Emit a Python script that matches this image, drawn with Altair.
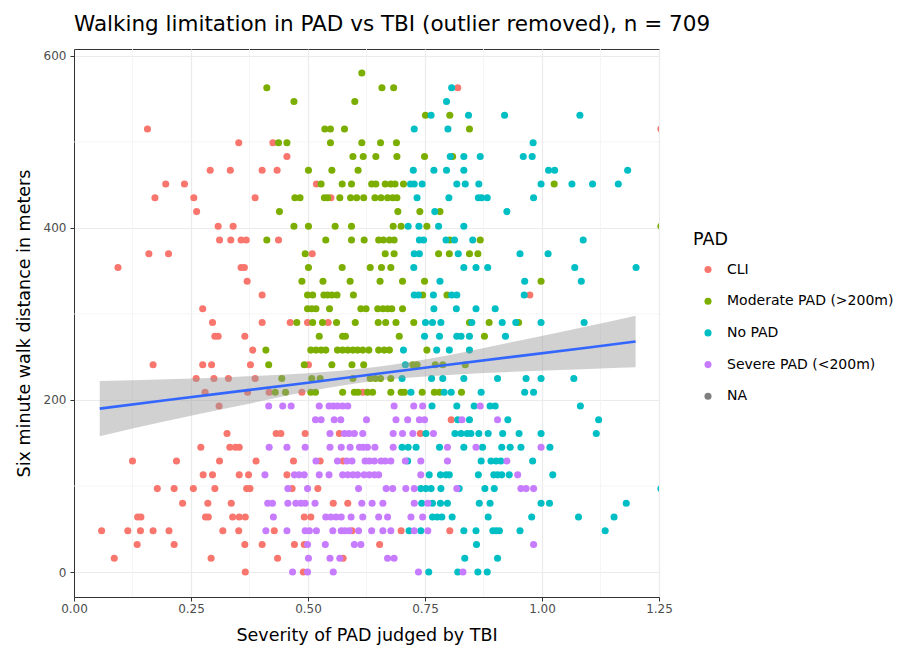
import altair as alt
import pandas as pd

CATS = ["CLI", "Moderate PAD (>200m)", "No PAD", "Severe PAD (<200m)", "NA"]
COLORS = ["#F8766D", "#7CAE00", "#00BFC4", "#C77CFF", "#7F7F7F"]

# walk distance (m) -> TBI values
CLI = {
    563: [0.820],
    515: [0.157, 1.254],
    499: [0.352, 0.425],
    483: [0.455],
    467: [0.291, 0.334, 0.402, 0.434],
    451: [0.196, 0.236, 0.518],
    435: [0.173, 0.256, 0.387, 0.549],
    419: [0.262],
    402: [0.308, 0.340],
    386: [0.311, 0.335, 0.357, 0.368, 0.437],
    370: [0.160, 0.202, 0.509],
    354: [0.094, 0.357, 0.364],
    338: [0.370],
    322: [0.402, 0.974],
    306: [0.275],
    290: [0.296, 0.402, 0.462, 0.499, 0.543],
    274: [0.301, 0.308, 0.365],
    258: [0.382],
    241: [0.169, 0.275, 0.294, 0.377, 0.501],
    225: [0.261, 0.299, 0.330, 0.387],
    209: [0.280, 0.371, 0.417, 0.487, 0.617],
    193: [0.310],
    177: [0.806],
    161: [0.327, 0.432, 0.442, 0.494, 0.567, 0.740],
    145: [0.271, 0.333, 0.345, 0.353],
    129: [0.125, 0.219, 0.311, 0.389, 0.469, 0.526, 0.575],
    113: [0.276, 0.296, 0.353, 0.373, 0.455],
    97: [0.178, 0.214, 0.255, 0.301, 0.369, 0.376, 0.466, 0.521],
    80: [0.232, 0.286, 0.336, 0.554, 0.585],
    64: [0.136, 0.143, 0.281, 0.287, 0.339, 0.353, 0.366, 0.492, 0.506],
    48: [0.059, 0.115, 0.142, 0.169, 0.203, 0.318, 0.352, 0.428, 0.594, 0.699, 0.803],
    32: [0.135, 0.214, 0.365, 0.402, 0.471, 0.492, 0.653],
    16: [0.086, 0.293, 0.435, 0.575],
    0: [0.366, 0.490],
}

MODERATE = {
    580: [0.615],
    563: [0.412, 0.658, 0.683],
    547: [0.470, 0.600],
    531: [0.751, 0.803],
    515: [0.536, 0.548, 0.578, 0.845],
    499: [0.437, 0.455, 0.548, 0.615, 0.655, 0.689],
    483: [0.596, 0.618, 0.645, 0.690, 0.749, 0.809],
    467: [0.501, 0.551, 0.607],
    451: [0.528, 0.573, 0.593, 0.636, 0.645, 0.665, 0.677, 0.686, 0.704, 1.026],
    435: [0.472, 0.483, 0.535, 0.542, 0.568, 0.591, 0.604, 0.619, 0.643, 0.656, 0.670, 0.681, 0.690],
    419: [0.439, 0.692, 0.739, 0.782],
    402: [0.470, 0.501, 0.558, 0.593, 0.682, 0.699, 0.754, 1.254],
    386: [0.412, 0.538, 0.593, 0.620, 0.651, 0.661, 0.674, 0.684, 0.803, 0.868],
    370: [0.494, 0.665, 0.684, 0.779, 0.802, 0.845, 0.863],
    354: [0.501, 0.573, 0.633, 0.657, 0.677],
    338: [0.487, 0.532, 0.590, 0.654, 0.702, 0.749, 0.998],
    322: [0.499, 0.510, 0.534, 0.542, 0.551, 0.562, 0.597, 0.745, 0.797],
    306: [0.499, 0.508, 0.517, 0.546, 0.613, 0.624, 0.649, 0.660, 0.670, 0.679, 0.702],
    290: [0.476, 0.510, 0.531, 0.561, 0.601, 0.650, 0.666, 0.688, 0.726, 0.845, 0.887, 0.950],
    274: [0.524, 0.574, 0.580, 0.695, 0.877],
    258: [0.410, 0.506, 0.517, 0.528, 0.538, 0.563, 0.574, 0.585, 0.596, 0.606, 0.617, 0.630,
          0.651, 0.663, 0.674, 0.754],
    241: [0.416, 0.492, 0.551, 0.594, 0.619, 0.724, 0.733, 0.772, 0.788, 0.836],
    225: [0.444, 0.508, 0.526, 0.596, 0.633, 0.644, 0.655, 0.677],
    209: [0.430, 0.452, 0.506, 0.516, 0.574, 0.599, 0.607, 0.627, 0.638, 0.677, 0.699, 0.706,
          0.744, 0.770, 0.781, 0.828],
}

NO_PAD = {
    563: [0.807],
    547: [0.796],
    531: [0.763, 0.843, 0.920, 1.081],
    515: [0.727, 0.799],
    499: [0.981],
    483: [0.804, 0.833, 0.868, 0.960, 0.979],
    467: [0.725, 0.769, 0.796, 0.833, 1.014, 1.027, 1.183],
    451: [0.719, 0.727, 0.744, 0.818, 0.836, 0.865, 0.998, 1.064, 1.108, 1.163],
    435: [0.733, 0.801, 0.864, 0.871, 0.883, 0.982],
    419: [0.771, 0.925],
    402: [0.714, 0.737, 0.779, 0.833],
    386: [0.738, 0.747, 0.795, 0.813, 0.852, 1.088],
    370: [0.727, 0.738, 0.821, 0.953, 1.013],
    354: [0.726, 0.833, 0.859, 0.884, 1.070, 1.201],
    338: [0.782, 0.963, 1.084],
    322: [0.727, 0.736, 0.768, 0.807, 0.818, 0.962],
    306: [0.769, 0.817, 0.859, 0.900],
    290: [0.751, 0.766, 0.784, 0.850, 0.915, 0.944, 0.998, 1.090],
    274: [0.749, 0.781, 0.818, 0.827, 0.845, 0.922],
    258: [0.704, 0.775, 0.802, 0.845],
    241: [0.708],
    225: [0.701, 0.764, 0.788, 0.833, 0.905, 0.966, 0.998, 1.068],
    209: [0.720, 0.791, 0.806, 0.870, 0.963, 0.982],
    193: [0.765, 0.818, 0.855, 0.889, 0.900, 1.082],
    177: [0.820, 0.845, 0.927, 1.121],
    161: [0.752, 0.814, 0.827, 0.840, 0.848, 0.865, 0.885, 0.916, 0.951, 0.998, 1.116],
    145: [0.701, 0.714, 0.731, 0.781, 0.833, 0.873, 0.914, 0.932, 0.955, 1.017],
    129: [0.713, 0.870, 0.891, 0.902, 0.912, 0.980],
    113: [0.759, 0.783, 0.795, 0.802, 0.864, 0.897, 0.905, 0.914, 0.930, 1.023],
    97: [0.741, 0.752, 0.763, 0.784, 0.823, 0.878, 0.898, 1.254],
    80: [0.743, 0.766, 0.783, 0.798, 0.866, 0.889, 0.998, 1.016, 1.180],
    64: [0.766, 0.776, 0.786, 0.808, 0.885, 0.978, 1.078, 1.154],
    48: [0.716, 0.741, 0.833, 0.859, 0.895, 0.902, 0.909, 0.953, 1.135],
    32: [0.860],
    16: [0.835, 0.905],
    0: [0.758, 0.820, 0.863, 0.883],
}

SEVERE = {
    193: [0.416, 0.446, 0.464, 0.524, 0.545, 0.554, 0.563, 0.574, 0.585, 0.684, 0.726, 0.745, 0.868],
    177: [0.516, 0.528, 0.556, 0.570, 0.625, 0.688, 0.713, 0.738, 0.749, 0.829, 0.905],
    161: [0.547, 0.578, 0.588, 0.599, 0.617, 0.682, 0.702, 0.724, 0.768],
    145: [0.417, 0.455, 0.494, 0.547, 0.571, 0.590, 0.610, 0.618, 0.627, 0.643, 0.682, 0.798,
          0.859, 0.998],
    129: [0.517, 0.563, 0.583, 0.594, 0.622, 0.631, 0.642, 0.656, 0.665, 0.677, 0.708, 0.741,
          0.798, 0.925],
    113: [0.408, 0.471, 0.481, 0.492, 0.524, 0.545, 0.574, 0.585, 0.596, 0.606, 0.620, 0.631,
          0.642, 0.651, 0.741, 0.948],
    97: [0.457, 0.499, 0.608, 0.667, 0.681, 0.709, 0.727, 0.818, 0.955, 0.966, 0.982],
    80: [0.414, 0.424, 0.457, 0.474, 0.485, 0.494, 0.515, 0.615, 0.637, 0.660, 0.727, 0.756],
    64: [0.426, 0.538, 0.549, 0.560, 0.571, 0.592, 0.617, 0.651, 0.670, 0.720, 0.745],
    48: [0.410, 0.455, 0.494, 0.503, 0.518, 0.553, 0.571, 0.579, 0.588, 0.608, 0.636, 0.660,
         0.677, 0.727, 0.756],
    32: [0.499, 0.537, 0.599, 0.613, 0.982],
    16: [0.501, 0.547, 0.568, 0.670, 0.684],
    0: [0.467, 0.499, 0.554, 0.736, 0.831],
}

# linear fit and its confidence band
BAND_X = [0.055, 0.2, 0.35, 0.5, 0.64, 0.8, 0.95, 1.1, 1.2]
BAND_LO = [158, 176, 193, 210, 222, 229, 233, 236, 238]
BAND_HI = [222, 224, 227, 231, 238, 252, 269, 286, 298]
FIT = [190, 200, 210, 220, 230, 241, 251, 261, 268]

X_TICKS = [0, 0.25, 0.5, 0.75, 1.0, 1.25]
Y_TICKS = [0, 200, 400, 600]
X_MINOR = [0.125, 0.375, 0.625, 0.875, 1.125]
Y_MINOR = [100, 300, 500]

FONT = "DejaVu Sans"

rows = []
for cat, table in zip(CATS, [CLI, MODERATE, NO_PAD, SEVERE]):
    for dist, xs in table.items():
        for x in xs:
            rows.append({"tbi": x, "walk": dist, "PAD": cat})
points_df = pd.DataFrame(rows)
band_df = pd.DataFrame({"tbi": BAND_X, "lo": BAND_LO, "hi": BAND_HI, "fit": FIT})

xscale = alt.Scale(domain=[0, 1.25], nice=False, zero=False)
yscale = alt.Scale(domain=[-29, 608], nice=False, zero=False)

xaxis = alt.Axis(values=X_TICKS, format=".2f", title="Severity of PAD judged by TBI",
                 grid=True, labelPadding=2, titlePadding=12, labelFlush=False)
yaxis = alt.Axis(values=Y_TICKS, title="Six minute walk distance in meters",
                 grid=True, labelPadding=4, titlePadding=10, labelFlush=False)

minor_x = alt.Chart(pd.DataFrame({"v": X_MINOR})).mark_rule(
    color="#F2F2F2", strokeWidth=0.8).encode(x=alt.X("v:Q", scale=xscale, axis=xaxis))
minor_y = alt.Chart(pd.DataFrame({"v": Y_MINOR})).mark_rule(
    color="#F2F2F2", strokeWidth=0.8).encode(y=alt.Y("v:Q", scale=yscale, axis=yaxis))

pts = alt.Chart(points_df).mark_circle(size=50, opacity=1, clip=True).encode(
    x=alt.X("tbi:Q", scale=xscale, axis=xaxis),
    y=alt.Y("walk:Q", scale=yscale, axis=yaxis),
    color=alt.Color("PAD:N", scale=alt.Scale(domain=CATS, range=COLORS),
                    legend=alt.Legend(title="PAD", orient="none", legendX=619, legendY=182,
                                      titleFontSize=17.5, titleFontWeight="normal",
                                      titleColor="black", labelFontSize=14, labelColor="black",
                                      labelLimit=400, symbolType="circle", symbolSize=50,
                                      rowPadding=17.7, titlePadding=14, labelOffset=12,
                                      padding=0, symbolOffset=8, symbolStrokeWidth=0)),
)

band = alt.Chart(band_df).mark_area(color="#999999", opacity=0.45, interpolate="monotone").encode(
    x=alt.X("tbi:Q", scale=xscale), y=alt.Y("lo:Q", scale=yscale), y2="hi:Q")
line = alt.Chart(band_df).mark_line(color="#3366FF", strokeWidth=2.6).encode(
    x=alt.X("tbi:Q", scale=xscale), y=alt.Y("fit:Q", scale=yscale))

chart = alt.layer(minor_x, minor_y, pts, band, line).properties(
    width=585, height=548,
    autosize=alt.AutoSizeParams(type="none"),
    padding={"left": 74, "top": 49, "right": 242, "bottom": 51},
    title=alt.TitleParams("Walking limitation in PAD vs TBI (outlier removed), n = 709",
                          anchor="start", frame="group", fontSize=21.5, fontWeight="normal",
                          color="black", offset=13),
).configure(
    font=FONT, background="white",
).configure_view(
    stroke="#333333", strokeWidth=1,
).configure_axis(
    labelFontSize=12, labelColor="#4D4D4D", tickColor="#333333", tickSize=4,
    domain=True, domainColor="#333333", domainWidth=1,
    gridColor="#EBEBEB", gridWidth=1.2,
    titleFontSize=17.5, titleFontWeight="normal", titleColor="black",
)

chart.save("out.html", embed_options={"renderer": "svg", "actions": False})
